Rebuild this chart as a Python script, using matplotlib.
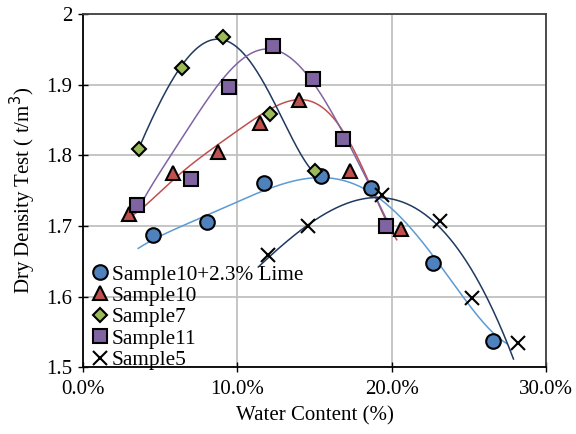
import matplotlib
matplotlib.use("Agg")
import matplotlib.pyplot as plt
import numpy as np
from matplotlib.ticker import FuncFormatter, MultipleLocator

plt.rcParams['font.family'] = ['Liberation Serif', 'DejaVu Serif']

# Measured points (water content %, dry density t/m3)
lime_x = [4.52, 8.02, 11.75, 15.4, 18.66, 22.66, 26.55]
lime_y = [1.687, 1.706, 1.760, 1.770, 1.754, 1.648, 1.537]

s10_x = [3.0, 5.85, 8.77, 11.47, 14.0, 17.3, 20.6]
s10_y = [1.717, 1.775, 1.805, 1.846, 1.878, 1.778, 1.695]

s7_x = [3.65, 6.4, 9.05, 12.12, 15.04]
s7_y = [1.809, 1.924, 1.967, 1.859, 1.777]

s11_x = [3.52, 7.0, 9.46, 12.33, 14.93, 16.83, 19.64]
s11_y = [1.729, 1.766, 1.896, 1.955, 1.908, 1.823, 1.700]

s5_x = [12.0, 14.6, 19.36, 23.14, 25.19, 28.2]
s5_y = [1.659, 1.700, 1.744, 1.707, 1.598, 1.534]

# Trendline curves (water content %, density)
lime_tr_x = [3.58, 5.64, 8.23, 9.96, 12.12, 14.06, 15.36, 16.66, 18.6, 19.25, 21.3, 23.57, 25.73, 27.46]
lime_tr_y = [1.668, 1.692, 1.718, 1.734, 1.751, 1.765, 1.769, 1.766, 1.748, 1.739, 1.697, 1.623, 1.576, 1.531]

s10_tr_x = [2.55, 6.29, 7.58, 9.53, 10.82, 12.12, 13.63, 14.5, 15.57, 16.66, 17.74, 18.6, 19.46, 20.33]
s10_tr_y = [1.709, 1.774, 1.796, 1.825, 1.850, 1.866, 1.876, 1.876, 1.866, 1.845, 1.798, 1.755, 1.718, 1.680]

s7_tr_x = [3.65, 4.56, 5.42, 6.35, 7.37, 8.23, 9.09, 9.53, 10.82, 12.12, 13.4, 14.17, 15.0]
s7_tr_y = [1.811, 1.855, 1.895, 1.924, 1.949, 1.961, 1.966, 1.963, 1.930, 1.883, 1.836, 1.796, 1.775]

s11_tr_x = [3.65, 5.2, 6.9, 8.23, 9.4, 10.39, 11.26, 12.12, 12.77, 13.63, 14.5, 15.15, 16.0, 17.3, 18.17, 19.03, 19.79, 20.1]
s11_tr_y = [1.727, 1.781, 1.843, 1.888, 1.910, 1.935, 1.949, 1.954, 1.949, 1.932, 1.914, 1.895, 1.862, 1.817, 1.774, 1.737, 1.704, 1.689]

s5_tr_x = [11.36, 12.77, 14.5, 16.66, 17.09, 18.81, 20.11, 21.6, 23.57, 25.3, 26.6, 27.89]
s5_tr_y = [1.642, 1.670, 1.699, 1.727, 1.732, 1.744, 1.739, 1.717, 1.689, 1.637, 1.576, 1.512]

trend_order = [5, 6, 5, 6, 4]

series = [
    ("Sample10+2.3% Lime", lime_x, lime_y, lime_tr_x, lime_tr_y, 'o', '#4F81BD', '#5B9BD5', 10.5),
    ("Sample10", s10_x, s10_y, s10_tr_x, s10_tr_y, '^', '#C0504D', '#C0504D', 10.5),
    ("Sample7", s7_x, s7_y, s7_tr_x, s7_tr_y, 'D', '#9BBB59', '#1F3A5F', 7.5),
    ("Sample11", s11_x, s11_y, s11_tr_x, s11_tr_y, 's', '#8064A2', '#8064A2', 10.5),
    ("Sample5", s5_x, s5_y, s5_tr_x, s5_tr_y, 'x', 'black', '#1F3A5F', 9.5),
]

fig = plt.figure(figsize=(5.76, 4.34), dpi=100)
ax = fig.add_axes([0.144, 0.154, 0.804, 0.814])

for (name, xs, ys, tx, ty, mk, fc, lc, ms), order in zip(series, trend_order):
    tx_a = np.array(tx) / 100.0
    ty_a = np.array(ty)
    coef = np.polyfit(tx_a, ty_a, order)
    xx = np.linspace(tx_a.min(), tx_a.max(), 300)
    ax.plot(xx, np.polyval(coef, xx), color=lc, lw=1.1, zorder=2)
    xs_a = np.array(xs) / 100.0
    if mk == 'x':
        ax.plot(xs_a, ys, linestyle='none', marker='x', color='black',
                markersize=ms, markeredgewidth=1.5, label=name, zorder=3)
    else:
        ax.plot(xs_a, ys, linestyle='none', marker=mk, markerfacecolor=fc,
                markeredgecolor='black', markeredgewidth=1.5, markersize=ms,
                label=name, zorder=3)

ax.set_xlim(0, 0.30)
ax.set_ylim(1.5, 2.0)
ax.xaxis.set_major_locator(MultipleLocator(0.10))
ax.yaxis.set_major_locator(MultipleLocator(0.1))
ax.xaxis.set_major_formatter(FuncFormatter(lambda v, p: f"{v*100:.1f}%"))
ax.yaxis.set_major_formatter(FuncFormatter(lambda v, p: f"{v:g}"))
ax.grid(True, color='#C0C0C0', lw=1.3)
ax.set_axisbelow(True)
for s in ['top', 'right']:
    ax.spines[s].set_color('#404040')
    ax.spines[s].set_linewidth(1.3)
for s in ['left', 'bottom']:
    ax.spines[s].set_color('black')
    ax.spines[s].set_linewidth(1.3)
ax.tick_params(axis='both', direction='inout', length=7, width=1.0,
               labelsize=15, colors='black')
ax.tick_params(axis='x', pad=6)
ax.tick_params(axis='y', pad=4)
ax.set_xlabel("Water Content (%)", fontsize=15, labelpad=5)
ax.set_ylabel("Dry Density Test ( t/m$^3$)", fontsize=15, labelpad=6)

ax.legend(loc='lower left', frameon=False, fontsize=15.3, handletextpad=0.05,
          borderaxespad=0.0, labelspacing=0.07, handlelength=1.0,
          borderpad=0.2, bbox_to_anchor=(0.005, -0.02))

fig.savefig("out.png", dpi=100)
